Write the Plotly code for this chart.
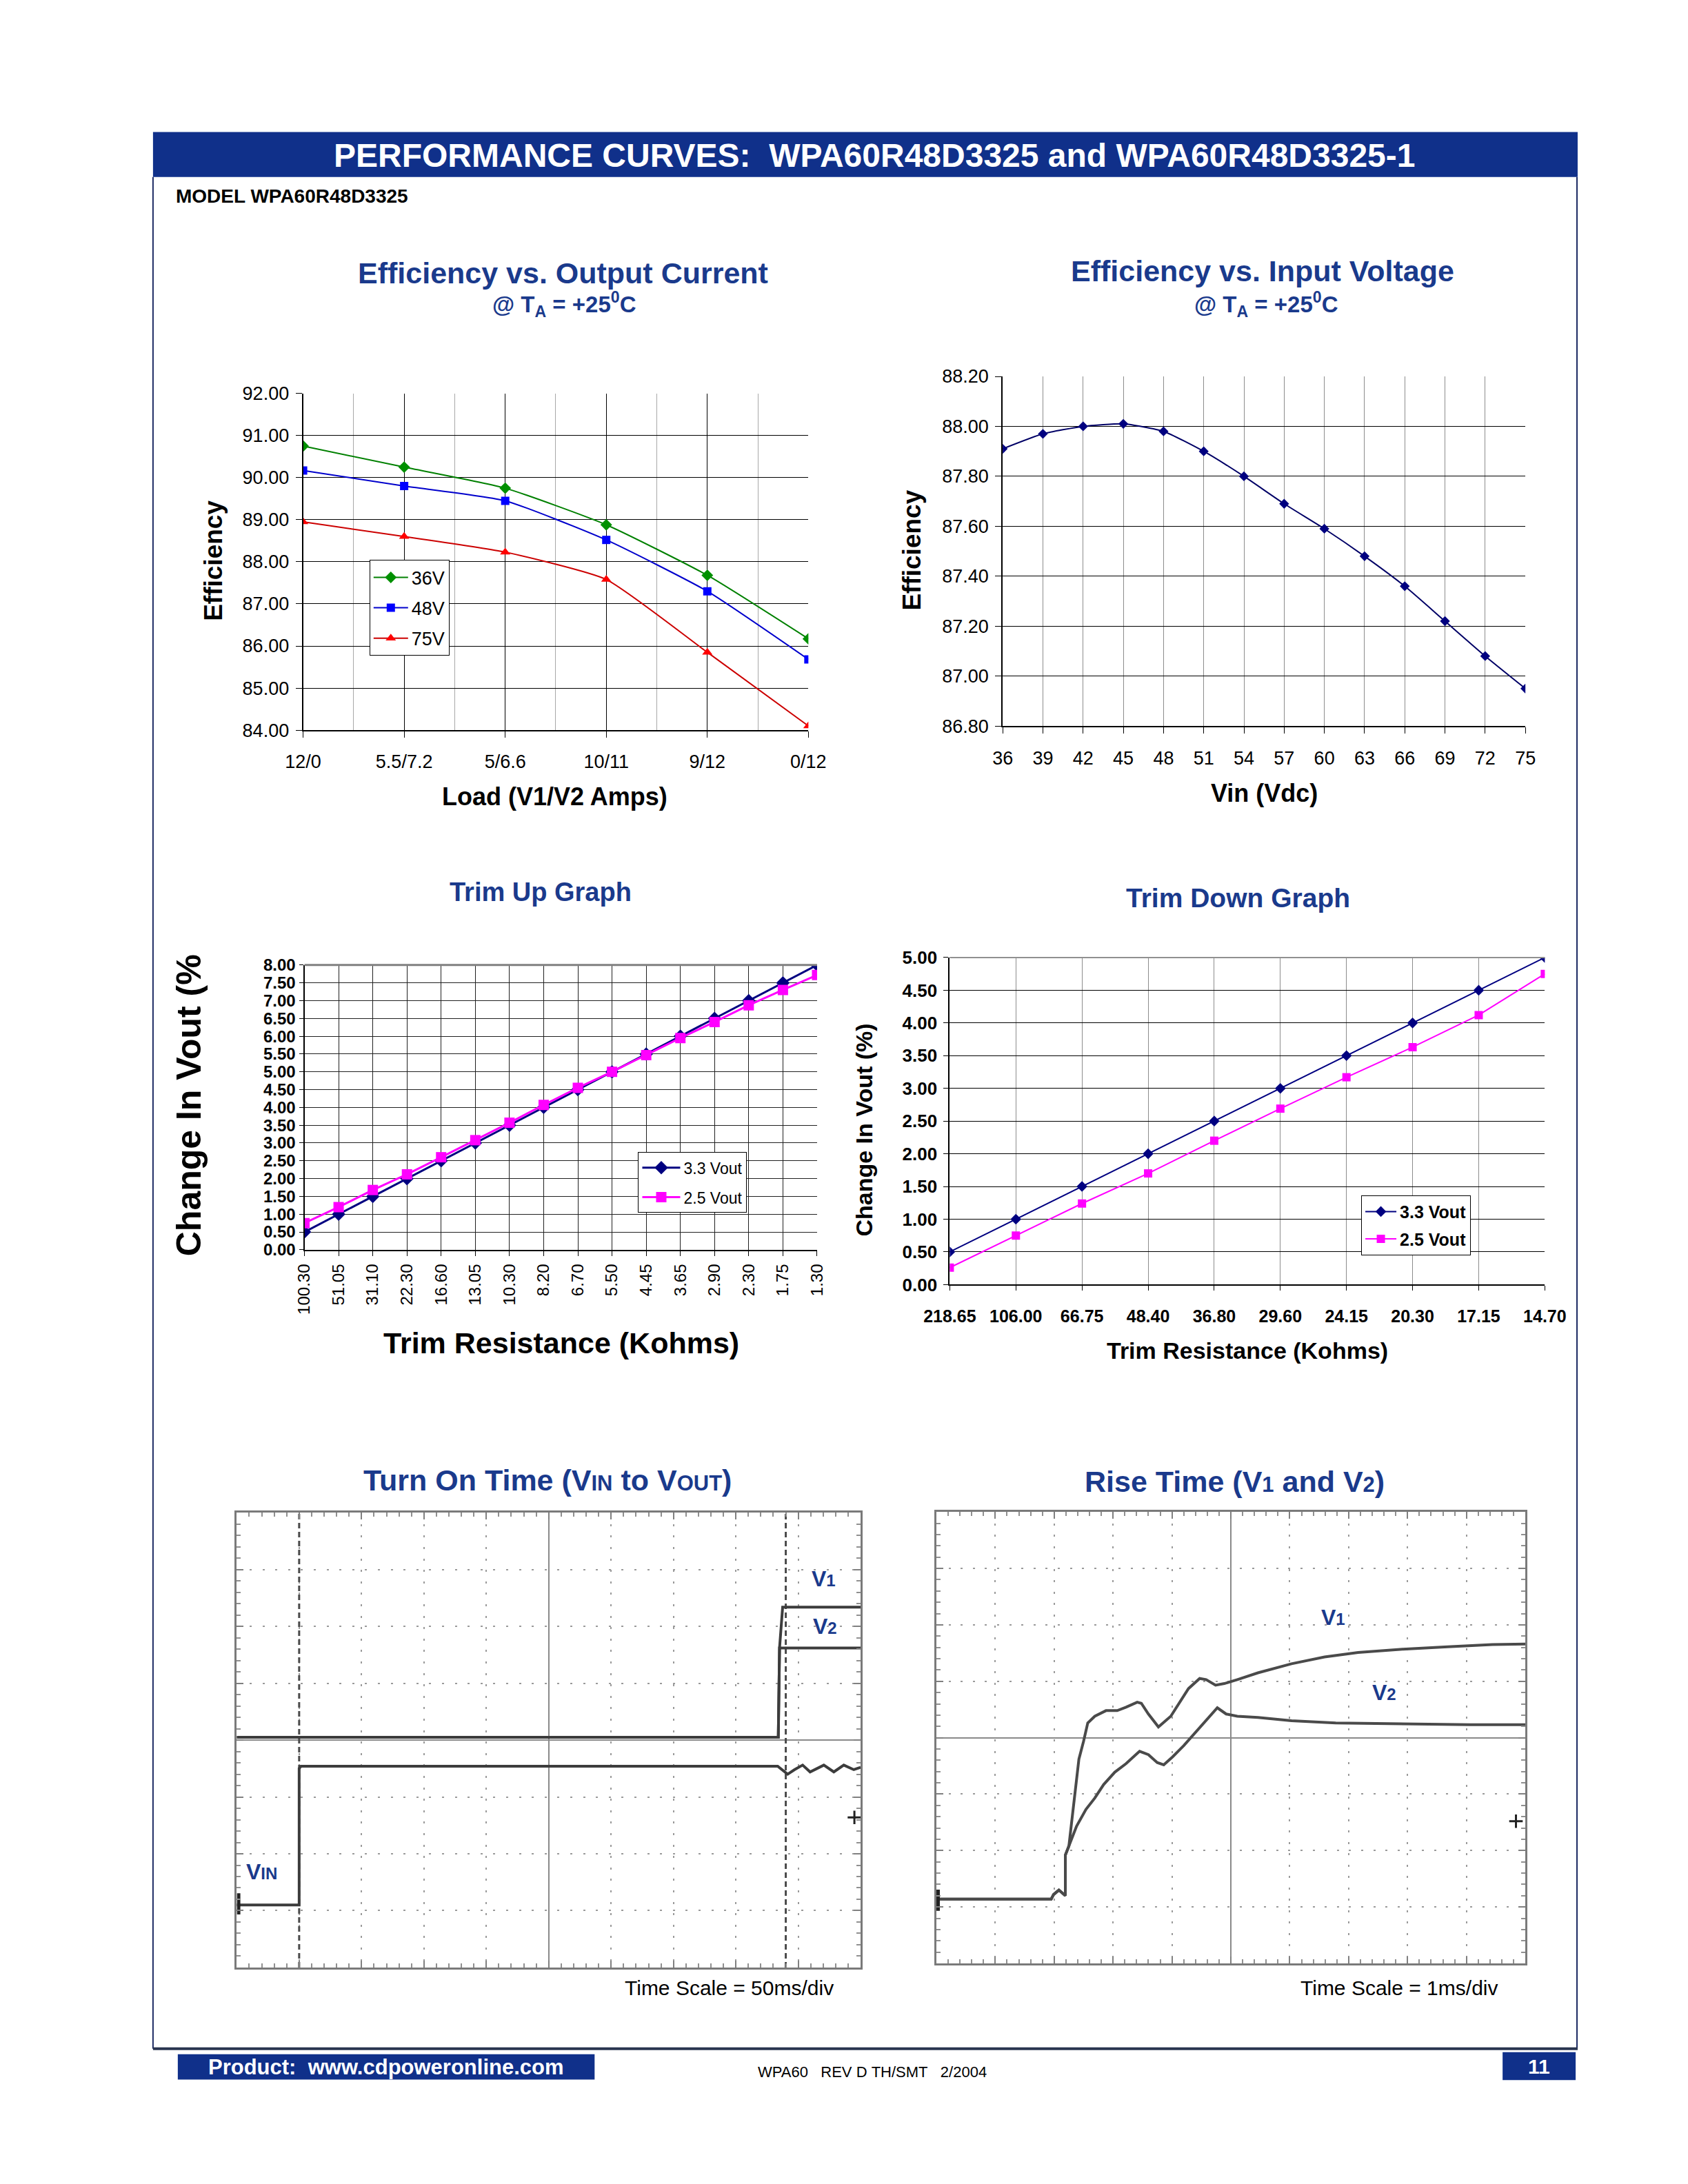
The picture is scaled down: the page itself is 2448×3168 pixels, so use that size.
import plotly.graph_objects as go

# ---------------- data ----------------
LOAD_LABELS = ["12/0", "5.5/7.2", "5/6.6", "10/11", "9/12", "0/12"]
EFF_36V = [90.75, 90.25, 89.75, 88.88, 87.68, 86.17]
EFF_48V = [90.17, 89.80, 89.45, 88.52, 87.30, 85.68]
EFF_75V = [88.95, 88.60, 88.23, 87.58, 85.85, 84.10]

VIN_VDC = [36, 39, 42, 45, 48, 51, 54, 57, 60, 63, 66, 69, 72, 75]
EFF_VIN = [87.91, 87.97, 88.00, 88.01, 87.98, 87.90, 87.80, 87.69, 87.59, 87.48, 87.36, 87.22, 87.08, 86.95]

TRIM_UP_R = ["100.30", "51.05", "31.10", "22.30", "16.60", "13.05", "10.30", "8.20",
             "6.70", "5.50", "4.45", "3.65", "2.90", "2.30", "1.75", "1.30"]
TRIM_UP_33 = [0.50, 1.00, 1.50, 2.00, 2.50, 3.00, 3.50, 4.00, 4.50, 5.00, 5.50, 6.00, 6.50, 7.00, 7.50, 8.00]
TRIM_UP_25 = [0.75, 1.20, 1.68, 2.12, 2.60, 3.08, 3.57, 4.07, 4.55, 5.00, 5.47, 5.95, 6.40, 6.87, 7.30, 7.72]

TRIM_DN_R = ["218.65", "106.00", "66.75", "48.40", "36.80", "29.60", "24.15", "20.30", "17.15", "14.70"]
TRIM_DN_33 = [0.50, 1.00, 1.50, 2.00, 2.50, 3.00, 3.50, 4.00, 4.50, 5.00]
TRIM_DN_25 = [0.26, 0.75, 1.24, 1.70, 2.20, 2.69, 3.17, 3.63, 4.12, 4.75]

# oscilloscope traces, in screen divisions relative to the screen centre
TON_T_V1 = [-5.0, 3.68, 3.70, 3.75, 5.0]
TON_V1 = [0.05, 0.05, 1.62, 2.34, 2.34]
TON_T_V2 = [-5.0, 3.68, 3.70, 5.0]
TON_V2 = [0.05, 0.05, 1.62, 1.62]
TON_T_VIN = [-5.0, -4.0, -4.0, -3.97, 3.67, 3.76, 3.83, 3.94, 4.07, 4.19, 4.41, 4.57, 4.73, 4.89, 5.0]
TON_VIN = [-2.90, -2.90, -0.50, -0.46, -0.46, -0.54, -0.60, -0.52, -0.44, -0.56, -0.44, -0.56, -0.44, -0.52, -0.48]
TON_CURSORS = [-4.0, 3.80]
TON_MARK_T = [4.90]
TON_MARK_V = [-1.36]

RISE_T_V1 = [-5.0, -3.05, -3.01, -2.92, -2.81, -2.81, -2.75, -2.67, -2.58, -2.50, -2.43, -2.31,
             -2.12, -1.93, -1.78, -1.59, -1.52, -1.40, -1.23, -1.02, -0.87, -0.72, -0.53, -0.42,
             -0.26, -0.11, 0.11, 0.46, 1.03, 1.59, 2.16, 2.92, 3.68, 4.44, 5.0]
RISE_V1 = [-2.86, -2.86, -2.78, -2.70, -2.80, -2.08, -1.92, -1.23, -0.38, -0.06, 0.26, 0.38,
           0.48, 0.48, 0.54, 0.63, 0.61, 0.42, 0.19, 0.38, 0.63, 0.87, 1.05, 1.03,
           0.93, 0.96, 1.03, 1.15, 1.31, 1.43, 1.51, 1.57, 1.61, 1.65, 1.66]
RISE_T_V2 = [-5.0, -3.05, -3.01, -2.92, -2.81, -2.81, -2.75, -2.62, -2.46, -2.31, -2.16, -1.97,
             -1.78, -1.55, -1.40, -1.25, -1.14, -0.99, -0.80, -0.60, -0.42, -0.23, -0.08, 0.11,
             0.46, 1.03, 1.78, 2.92, 4.06, 5.0]
RISE_V2 = [-2.86, -2.86, -2.78, -2.70, -2.80, -2.08, -1.92, -1.57, -1.27, -1.07, -0.83, -0.61,
           -0.46, -0.24, -0.30, -0.44, -0.48, -0.34, -0.14, 0.10, 0.32, 0.53, 0.42, 0.38,
           0.36, 0.30, 0.26, 0.24, 0.23, 0.23]
RISE_MARK_T = [4.84]
RISE_MARK_V = [-1.48]
GND_T = [-4.97]
GND_V = [-2.88]

# ---------------- page geometry ----------------
W, H = 2448, 3168
FONT = "Liberation Sans, Arial, sans-serif"
NAVY = "#1A3A8C"
BAR = "#10308A"
TRACE = "#3c3c3c"


def dx(x0, x1):
    return [x0 / W, x1 / W]


def dy(y0, y1):
    return [1 - y1 / H, 1 - y0 / H]


def ann(text, x, y, size, color="black", bold=False, angle=0, xanchor="center", yanchor="middle"):
    return dict(text=text, x=x / W, y=1 - y / H, xref="paper", yref="paper", showarrow=False,
                font=dict(family=FONT, size=size, color=color, weight="bold" if bold else "normal"),
                textangle=angle, xanchor=xanchor, yanchor=yanchor)


fig = go.Figure()

# ---- chart 1: efficiency vs output current ----
idx1 = list(range(len(LOAD_LABELS)))
fig.add_trace(go.Scatter(x=idx1, y=EFF_36V, name="36V", mode="lines+markers", xaxis="x", yaxis="y",
                         line=dict(color="#008000", width=2, shape="spline", smoothing=0.5),
                         marker=dict(symbol="diamond", size=13, color="#009000"),
                         legend="legend", legendgroup="a"))
fig.add_trace(go.Scatter(x=idx1, y=EFF_48V, name="48V", mode="lines+markers", xaxis="x", yaxis="y",
                         line=dict(color="#0000CC", width=2, shape="spline", smoothing=0.5),
                         marker=dict(symbol="square", size=12, color="#0000FF"),
                         legend="legend", legendgroup="b"))
fig.add_trace(go.Scatter(x=idx1, y=EFF_75V, name="75V", mode="lines+markers", xaxis="x", yaxis="y",
                         line=dict(color="#CC0000", width=2, shape="spline", smoothing=0.5),
                         marker=dict(symbol="triangle-up", size=13, color="#FF0000"),
                         legend="legend", legendgroup="c"))

# ---- chart 2: efficiency vs input voltage ----
fig.add_trace(go.Scatter(x=VIN_VDC, y=EFF_VIN, mode="lines+markers", xaxis="x2", yaxis="y2",
                         line=dict(color="#000066", width=2, shape="spline", smoothing=0.5),
                         marker=dict(symbol="diamond", size=11, color="#000080"),
                         showlegend=False))

# ---- chart 3: trim up ----
idx3 = list(range(len(TRIM_UP_R)))
fig.add_trace(go.Scatter(x=idx3, y=TRIM_UP_33, name="3.3 Vout", mode="lines+markers", xaxis="x3", yaxis="y3",
                         line=dict(color="#000080", width=3),
                         marker=dict(symbol="diamond", size=15, color="#000080"),
                         legend="legend2", legendgroup="d"))
fig.add_trace(go.Scatter(x=idx3, y=TRIM_UP_25, name="2.5 Vout", mode="lines+markers", xaxis="x3", yaxis="y3",
                         line=dict(color="#FF00FF", width=3),
                         marker=dict(symbol="square", size=15, color="#FF00FF"),
                         legend="legend2", legendgroup="e"))

# ---- chart 4: trim down ----
idx4 = list(range(len(TRIM_DN_R)))
fig.add_trace(go.Scatter(x=idx4, y=TRIM_DN_33, name="3.3 Vout", mode="lines+markers", xaxis="x4", yaxis="y4",
                         line=dict(color="#000080", width=2),
                         marker=dict(symbol="diamond", size=12, color="#000080"),
                         legend="legend3", legendgroup="f"))
fig.add_trace(go.Scatter(x=idx4, y=TRIM_DN_25, name="2.5 Vout", mode="lines+markers", xaxis="x4", yaxis="y4",
                         line=dict(color="#FF00FF", width=2),
                         marker=dict(symbol="square", size=12, color="#FF00FF"),
                         legend="legend3", legendgroup="g"))

# ---- chart 5: turn on scope ----
for c in TON_CURSORS:
    fig.add_trace(go.Scatter(x=[c, c], y=[-4, 4], mode="lines", xaxis="x5", yaxis="y5",
                             line=dict(color="#4a4a4a", width=3, dash="8px,5px"), showlegend=False))
fig.add_trace(go.Scatter(x=TON_T_VIN, y=TON_VIN, mode="lines", xaxis="x5", yaxis="y5",
                         line=dict(color=TRACE, width=4), showlegend=False))
fig.add_trace(go.Scatter(x=TON_T_V2, y=TON_V2, mode="lines", xaxis="x5", yaxis="y5",
                         line=dict(color=TRACE, width=4), showlegend=False))
fig.add_trace(go.Scatter(x=TON_T_V1, y=TON_V1, mode="lines", xaxis="x5", yaxis="y5",
                         line=dict(color=TRACE, width=4), showlegend=False))
fig.add_trace(go.Scatter(x=TON_MARK_T, y=TON_MARK_V, mode="markers", xaxis="x5", yaxis="y5",
                         marker=dict(symbol="cross-thin-open", size=14, color="#222222",
                                     line=dict(color="#222222", width=3)),
                         showlegend=False))
fig.add_trace(go.Scatter(x=GND_T, y=GND_V, mode="markers", xaxis="x5", yaxis="y5",
                         marker=dict(symbol="line-ns-open", size=22, color="#222222",
                                     line=dict(color="#222222", width=5)),
                         showlegend=False))

# ---- chart 6: rise time scope ----
fig.add_trace(go.Scatter(x=RISE_T_V2, y=RISE_V2, mode="lines", xaxis="x6", yaxis="y6",
                         line=dict(color="#4a4a4a", width=4), showlegend=False))
fig.add_trace(go.Scatter(x=RISE_T_V1, y=RISE_V1, mode="lines", xaxis="x6", yaxis="y6",
                         line=dict(color="#4a4a4a", width=4), showlegend=False))
fig.add_trace(go.Scatter(x=RISE_MARK_T, y=RISE_MARK_V, mode="markers", xaxis="x6", yaxis="y6",
                         marker=dict(symbol="cross-thin-open", size=14, color="#222222",
                                     line=dict(color="#222222", width=3)),
                         showlegend=False))
fig.add_trace(go.Scatter(x=GND_T, y=GND_V, mode="markers", xaxis="x6", yaxis="y6",
                         marker=dict(symbol="line-ns-open", size=22, color="#222222",
                                     line=dict(color="#222222", width=5)),
                         showlegend=False))

# ---------------- axes ----------------
tf = dict(family=FONT, size=27, color="black")

common_x = dict(showline=True, linecolor="black", linewidth=2, ticks="outside", ticklen=9,
                tickcolor="black", zeroline=False, fixedrange=True)

layout = dict(
    width=W, height=H, autosize=False, margin=dict(l=0, r=0, t=0, b=0),
    paper_bgcolor="white", plot_bgcolor="white",
    xaxis=dict(domain=dx(405, 1159), anchor="y", range=[0, 5], tickmode="array", tickvals=idx1,
               ticktext=LOAD_LABELS, tickfont=tf, showgrid=True, gridcolor="#000000", gridwidth=1,
               minor=dict(dtick=0.5, tick0=0, showgrid=True, gridcolor="#a8a8a8", gridwidth=1, ticks=""),
               ticklabelstandoff=12, **common_x),
    yaxis=dict(domain=dy(553, 1046), anchor="x", range=[84, 92], dtick=1, tickformat=".2f", tickfont=tf,
               showgrid=True, gridcolor="#000000", gridwidth=1, ticklabelstandoff=4, **common_x),
    xaxis2=dict(domain=dx(1449, 2229), anchor="y2", range=[36, 75], dtick=3, tick0=36, tickfont=tf,
                showgrid=True, gridcolor="#8c8c8c", gridwidth=1, ticklabelstandoff=12, **common_x),
    yaxis2=dict(domain=dy(528, 1040), anchor="x2", range=[86.8, 88.2], dtick=0.2, tickformat=".2f",
                tickfont=tf, showgrid=True, gridcolor="#000000", gridwidth=1, ticklabelstandoff=4, **common_x),
    xaxis3=dict(domain=dx(407, 1172), anchor="y3", range=[0, 15], tickmode="array", tickvals=idx3,
                ticktext=TRIM_UP_R, tickangle=-90, tickfont=dict(family=FONT, size=24, color="black"),
                showgrid=True, gridcolor="#202020", gridwidth=1, ticklabelstandoff=2,
                **dict(common_x, ticklen=7)),
    yaxis3=dict(domain=dy(1390, 1807), anchor="x3", range=[0, 8], dtick=0.5, tickformat=".2f",
                tickfont=dict(family=FONT, size=24, color="black", weight="bold"),
                showgrid=True, gridcolor="#202020", gridwidth=1, ticklabelstandoff=0,
                **dict(common_x, ticklen=6)),
    xaxis4=dict(domain=dx(1370, 2258), anchor="y4", range=[0, 9], tickmode="array", tickvals=idx4,
                ticktext=TRIM_DN_R, tickfont=dict(family=FONT, size=25, color="black", weight="bold"),
                showgrid=True, gridcolor="#8c8c8c", gridwidth=1, ticklabelstandoff=16,
                **dict(common_x, ticklen=7)),
    yaxis4=dict(domain=dy(1379, 1858), anchor="x4", range=[0, 5], dtick=0.5, tickformat=".2f",
                tickfont=dict(family=FONT, size=26, color="black", weight="bold"),
                showgrid=True, gridcolor="#000000", gridwidth=1, ticklabelstandoff=4,
                **dict(common_x, ticklen=7)),
)

scope_common = dict(showline=True, mirror="ticks", linecolor="#7a7a7a", linewidth=3, ticks="inside",
                    ticklen=10, tickwidth=2, tickcolor="#808080", showticklabels=False,
                    showgrid=True, gridcolor="#9a9a9a", gridwidth=2,
                    zeroline=True, zerolinecolor="#8a8a8a", zerolinewidth=2, fixedrange=True,
                    minor=dict(ticks="inside", ticklen=6, tickwidth=2, tickcolor="#909090", showgrid=False,
                               dtick=0.2))

layout["xaxis5"] = dict(domain=dx(306, 1237), anchor="y5", range=[-5, 5], dtick=1, tick0=0,
                        griddash="3px,13.6px", **scope_common)
layout["yaxis5"] = dict(domain=dy(2192, 2858), anchor="x5", range=[-4, 4], dtick=1, tick0=0,
                        griddash="3px,15.6px", **scope_common)
layout["xaxis6"] = dict(domain=dx(1350, 2229), anchor="y6", range=[-5, 5], dtick=1, tick0=0,
                        griddash="3px,13.5px", **scope_common)
layout["yaxis6"] = dict(domain=dy(2191, 2852), anchor="x6", range=[-4, 4], dtick=1, tick0=0,
                        griddash="3px,14.6px", **scope_common)

leg_common = dict(bgcolor="white", bordercolor="black", borderwidth=1, xanchor="left", yanchor="top",
                  orientation="v", itemclick=False, itemdoubleclick=False)
layout["legend"] = dict(x=504 / W, y=1 - 797 / H, font=dict(family=FONT, size=27, color="black"),
                        itemwidth=50, tracegroupgap=6, **leg_common)
layout["legend2"] = dict(x=905 / W, y=1 - 1664 / H, font=dict(family=FONT, size=23, color="black"),
                         itemwidth=55, tracegroupgap=10, **leg_common)
layout["legend3"] = dict(x=1984 / W, y=1 - 1727 / H,
                         font=dict(family=FONT, size=25, color="black", weight="bold"),
                         itemwidth=45, tracegroupgap=4, **leg_common)

fig.update_layout(**layout)

# ---------------- decorations ----------------
shapes = [
    # header bar
    dict(type="rect", xref="paper", yref="paper", x0=181 / W, x1=2307 / W, y0=1 - 236 / H, y1=1 - 170 / H,
         fillcolor=BAR, line=dict(width=0), layer="below"),
    # page frame
    dict(type="line", xref="paper", yref="paper", x0=181 / W, x1=181 / W, y0=1 - 2977 / H, y1=1 - 236 / H,
         line=dict(color="#1d2b64", width=2)),
    dict(type="line", xref="paper", yref="paper", x0=2306 / W, x1=2306 / W, y0=1 - 2977 / H, y1=1 - 236 / H,
         line=dict(color="#1d2b64", width=2)),
    dict(type="line", xref="paper", yref="paper", x0=181 / W, x1=2307 / W, y0=1 - 2977 / H, y1=1 - 2977 / H,
         line=dict(color="#2a3550", width=4)),
    # footer boxes
    dict(type="rect", xref="paper", yref="paper", x0=218 / W, x1=840 / W, y0=1 - 3022 / H, y1=1 - 2985 / H,
         fillcolor=BAR, line=dict(width=0)),
    dict(type="rect", xref="paper", yref="paper", x0=2195 / W, x1=2304 / W, y0=1 - 3023 / H, y1=1 - 2982 / H,
         fillcolor=BAR, line=dict(width=0)),
    # gray top borders of the trim charts
    dict(type="line", xref="x3 domain", yref="y3 domain", x0=0, x1=1, y0=1, y1=1,
         line=dict(color="#808080", width=3)),
    dict(type="line", xref="x4 domain", yref="y4 domain", x0=0, x1=1, y0=1, y1=1,
         line=dict(color="#909090", width=2)),
]

SUB = "<span style='font-size:31px'>"
anns = [
    ann("PERFORMANCE CURVES:\u00a0\u00a0WPA60R48D3325 and WPA60R48D3325-1", 1257, 204, 48, "white", True),
    ann("MODEL WPA60R48D3325", 213, 264, 28, "black", True, xanchor="left"),
    # chart 1
    ann("Efficiency vs. Output Current", 793, 377, 43, NAVY, True),
    ann("@ T<sub>A</sub> = +25<sup>0</sup>C", 794, 423, 33, NAVY, True),
    ann("Efficiency", 271, 798, 37, "black", True, angle=-90),
    ann("Load (V1/V2 Amps)", 781, 1143, 36, "black", True),
    # chart 2
    ann("Efficiency vs. Input Voltage", 1837, 374, 43, NAVY, True),
    ann("@ T<sub>A</sub> = +25<sup>0</sup>C", 1842, 423, 33, NAVY, True),
    ann("Efficiency", 1314, 782, 37, "black", True, angle=-90),
    ann("Vin (Vdc)", 1839, 1138, 36, "black", True),
    # chart 3
    ann("Trim Up Graph", 759, 1283, 38, NAVY, True),
    ann("Change In Vout (%", 235, 1595, 50, "black", True, angle=-90),
    ann("Trim Resistance (Kohms)", 790, 1943, 43, "black", True),
    # chart 4
    ann("Trim Down Graph", 1800, 1292, 39, NAVY, True),
    ann("Change In Vout (%)", 1242, 1631, 34, "black", True, angle=-90),
    ann("Trim Resistance (Kohms)", 1814, 1955, 34, "black", True),
    # chart 5
    ann("Turn On Time (V" + SUB + "IN</span> to V" + SUB + "OUT</span>)", 770, 2144, 43, NAVY, True),
    ann("V<span style='font-size:24px'>1</span>", 1182, 2289, 32, NAVY, True),
    ann("V<span style='font-size:24px'>2</span>", 1184, 2358, 32, NAVY, True),
    ann("V<span style='font-size:24px'>IN</span>", 343, 2718, 32, NAVY, True),
    ann("Time Scale = 50ms/div", 1041, 2888, 30, "black"),
    # chart 6
    ann("Rise Time (V" + SUB + "1</span> and V" + SUB + "2</span>)", 1795, 2146, 43, NAVY, True),
    ann("V<span style='font-size:24px'>1</span>", 1942, 2345, 32, NAVY, True),
    ann("V<span style='font-size:24px'>2</span>", 2018, 2455, 32, NAVY, True),
    ann("Time Scale = 1ms/div", 2040, 2888, 30, "black"),
    # footer
    ann("Product:\u00a0 www.cdpoweronline.com", 529, 3004, 31, "white", True),
    ann("WPA60\u00a0\u00a0\u00a0REV\u00a0D\u00a0TH/SMT\u00a0\u00a0\u00a02/2004", 1254, 3011, 22, "black"),
    ann("11", 2249, 3003, 30, "white", True),
]

fig.update_layout(shapes=shapes, annotations=anns)

fig.write_html("out.html")
